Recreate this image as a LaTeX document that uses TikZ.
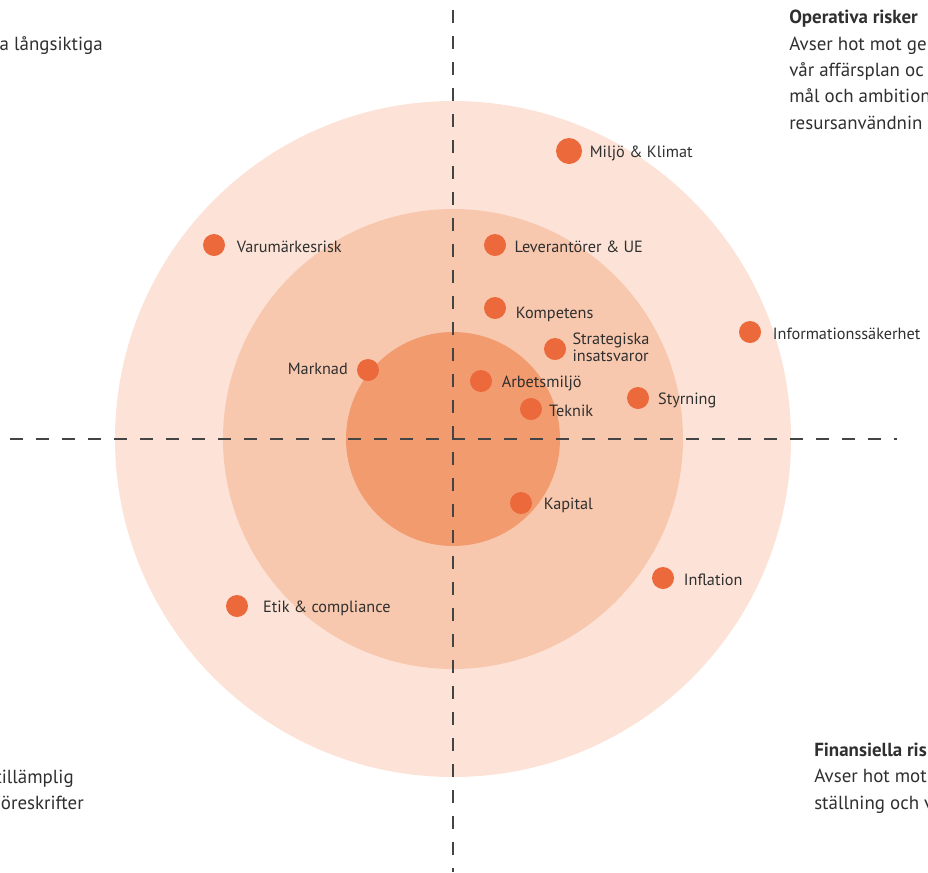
\documentclass[tikz,border=0pt]{standalone}
\usepackage{fontspec}
\setmainfont{PT Sans}
\usetikzlibrary{positioning}
\definecolor{ringouter}{HTML}{FDE3D7}
\definecolor{ringmid}{HTML}{F8C8AE}
\definecolor{ringinner}{HTML}{F29B6F}
\definecolor{dotorange}{HTML}{EC693B}
\definecolor{textgray}{HTML}{2F2F2F}
\definecolor{axisgray}{HTML}{444444}

\begin{document}
\begin{tikzpicture}[
    x=0.75pt, y=-0.75pt,
    every node/.style={text=textgray},
    riskdot/.style={circle, fill=dotorange, inner sep=0pt, minimum size=16.5pt},
    bigdot/.style={riskdot, minimum size=19.5pt},
    risklbl/.style={font=\fontsize{12.2}{13.6}\selectfont, inner sep=0pt, align=left, yshift=-1.5pt},
    blocktxt/.style={font=\fontsize{14.2}{19.7}\selectfont, inner sep=0pt, align=left},
    axis/.style={axisgray, line width=1pt, dash pattern=on 9.75pt off 9.75pt},
]
\useasboundingbox (0,0) rectangle (928,872);

% Rings
\coordinate (c) at (453,439);
\fill[ringouter] (c) circle (253.5pt);
\fill[ringmid] (c) circle (172.5pt);
\fill[ringinner] (c) circle (80.25pt);

% Axes
\draw[axis] (453,10) -- (453,872);
\draw[axis] (10,439) -- (897,439);

% Risks
\node[bigdot] (miljo) at (569,151) {};
\node[risklbl, right=5.5pt of miljo] {Miljö \& Klimat};

\node[riskdot] (varum) at (214,245) {};
\node[risklbl, right=8.5pt of varum] {Varumärkesrisk};

\node[riskdot] (lev) at (495,245) {};
\node[risklbl, right=6pt of lev] {Leverantörer \& UE};

\node[riskdot] (komp) at (495,308) {};
\node[risklbl, right=7pt of komp, yshift=-3pt] {Kompetens};

\node[riskdot] (strat) at (555,349) {};
\node[risklbl, right=4.5pt of strat, yshift=3pt] {Strategiska\\[-1pt]insatsvaror};

\node[riskdot] (info) at (750,332) {};
\node[risklbl, right=8.5pt of info] {Informationssäkerhet};

\node[riskdot] (mark) at (368,370) {};
\node[risklbl, left=6.5pt of mark, yshift=2pt] {Marknad};

\node[riskdot] (arb) at (481,381) {};
\node[risklbl, right=7pt of arb] {Arbetsmiljö};

\node[riskdot] (tek) at (531,409) {};
\node[risklbl, right=5pt of tek] {Teknik};

\node[riskdot] (styr) at (638,398) {};
\node[risklbl, right=6.5pt of styr] {Styrning};

\node[riskdot] (kap) at (521,503) {};
\node[risklbl, right=8.5pt of kap] {Kapital};

\node[riskdot] (infl) at (663,578) {};
\node[risklbl, right=7pt of infl] {Inflation};

\node[riskdot] (etik) at (237,606) {};
\node[risklbl, right=11pt of etik] {Etik \& compliance};

% Side texts (base = last line)
\node[blocktxt, anchor=base east] (strtxt) at (103,50) {a långsiktiga};
\node[blocktxt, anchor=base west] (optxt) at (789,129)
  {\textbf{Operativa risker}\\Avser hot mot ge\\vår affärsplan oc\\mål och ambition\\resursanvändnin};
\node[blocktxt, anchor=base east] (compl1) at (74,783) {tillämplig};
\node[blocktxt, anchor=base east] (compl2) at (84,809) {öreskrifter};
\node[blocktxt, anchor=base west] (fintxt) at (814,809)
  {\textbf{Finansiella ris}\\Avser hot mot\\ställning och v};

\end{tikzpicture}
\end{document}
